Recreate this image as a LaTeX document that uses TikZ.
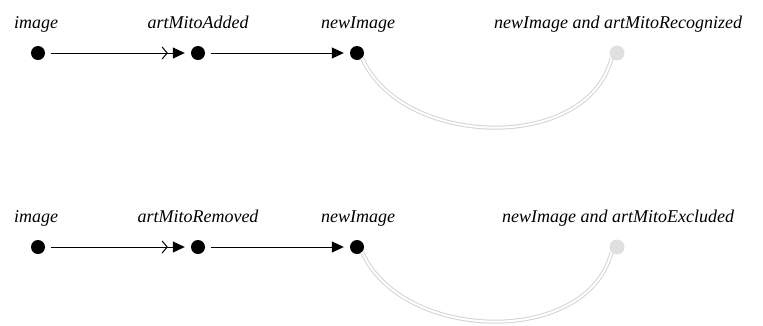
\documentclass[tikz,border=0pt]{standalone}
\usepackage{fontspec}
\setmainfont{Liberation Serif}
\usetikzlibrary{arrows.meta}
\begin{document}
\begin{tikzpicture}[x=1pt,y=-1pt,
  dot/.style={circle,fill=black,inner sep=0pt,minimum size=14pt},
  ghost/.style={circle,fill=black!12,inner sep=0pt,minimum size=15pt},
  lbl/.style={font=\fontsize{18}{20}\selectfont\itshape,inner sep=0pt,anchor=base},
  dblarrow/.style={line width=1pt,shorten <=6pt,shorten >=6pt,-{Straight Barb[length=5pt,width=12pt,sep=5pt] Triangle[length=12pt,width=11pt]}},
  sglarrow/.style={line width=1pt,shorten <=6pt,shorten >=6pt,-{Triangle[length=12pt,width=11pt]}},
  arc/.style={draw=black!17,double=white,double distance=2pt,line width=1pt}
]
\useasboundingbox (0,0) rectangle (763,325);
\foreach \r/\y/\mid/\last in {t/53/artMitoAdded/newImage and artMitoRecognized,b/247/artMitoRemoved/newImage and artMitoExcluded}{
  \node[dot] (\r1) at (38,\y) {};
  \node[dot] (\r2) at (198,\y) {};
  \node[dot] (\r3) at (357,\y) {};
  \node[ghost] (\r4) at (617,\y) {};
  \node[lbl] (\r l1) at (36,\y-25) {image};
  \node[lbl] (\r l2) at (198,\y-25) {\mid};
  \node[lbl] (\r l3) at (358,\y-25) {newImage};
  \node[lbl] (\r l4) at (618,\y-25) {\last};
  \draw[dblarrow] (\r1) -- (\r2);
  \draw[sglarrow] (\r2) -- (\r3);
  \draw[arc] (\r3.south east) .. controls +(40,90) and +(-25,95) .. (\r4.south west);
}
\end{tikzpicture}
\end{document}
